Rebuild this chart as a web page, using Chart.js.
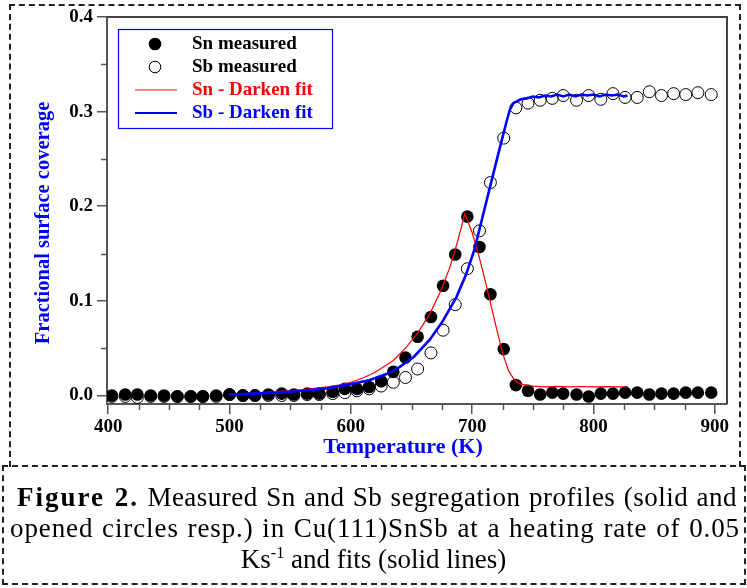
<!DOCTYPE html>
<html>
<head>
<meta charset="utf-8">
<script src="https://cdn.jsdelivr.net/npm/chart.js@4.4.1/dist/chart.umd.min.js"></script>
<style>
  body { margin: 0; background: #fff; width: 747px; height: 588px; position: relative; overflow: hidden;
         font-family: "Liberation Serif", "Times New Roman", serif; }
  #chart { position: absolute; left: 0; top: 0; }
  #plotBox { position: absolute; left: 9px; top: 4px; width: 732px; height: 463px; box-sizing: border-box;
             border: 2px dashed #222; border-bottom: none; }
  #capBox { position: absolute; left: 2px; top: 465px; width: 744px; height: 120px; box-sizing: border-box;
            border: 2px dashed #222; }
  .cap { position: absolute; font-size: 27px; line-height: 31px; color: #000; white-space: nowrap; }
  .cap.just { text-align: justify; text-align-last: justify; white-space: normal; }
  .cap.mid { text-align: center; }
  .cap b { letter-spacing: 2px; }
  .cap sup { font-size: 0.6em; vertical-align: baseline; position: relative; top: -0.6em; }
</style>
</head>
<body>
<canvas id="chart" width="747" height="466"></canvas>
<div id="plotBox"></div>
<div id="capBox"></div>
<div class="cap just" style="left:17px; top:482px; width:720px; letter-spacing:0.5px"><b>Figure 2.</b> Measured Sn and Sb segregation profiles (solid and</div>
<div class="cap just" style="left:10px; top:513px; width:730px; letter-spacing:0.9px">opened circles resp.) in Cu(111)SnSb at a heating rate of 0.05</div>
<div class="cap mid" style="left:0; top:544px; width:747px">Ks<sup>-1</sup> and fits (solid lines)</div>
<script>
// measured temperatures (K), shared by both species
const temps = [403, 414, 424, 435, 446, 457, 468, 478, 489, 500,
               511, 521, 532, 543, 553, 564, 574, 585, 595, 605,
               615, 625, 635, 645, 655, 666, 676, 686, 696, 706,
               715, 726, 736, 746, 756, 766, 775, 786, 796, 806,
               816, 826, 836, 846, 856, 866, 876, 886, 897];

const snMeasured = [0.000, 0.001, 0.001, 0.000, 0.000, -0.001, -0.001, -0.001, 0.000, 0.001,
                    0.000, 0.000, 0.001, 0.002, 0.001, 0.002, 0.002, 0.004, 0.007, 0.007,
                    0.009, 0.015, 0.025, 0.040, 0.062, 0.083, 0.116, 0.149, 0.189, 0.157,
                    0.107, 0.049, 0.011, 0.005, 0.001, 0.003, 0.002, 0.001, -0.001, 0.002,
                    0.002, 0.003, 0.003, 0.001, 0.002, 0.002, 0.003, 0.003, 0.003];

const sbMeasured = [-0.001, -0.001, -0.002, -0.001, -0.001, -0.001, -0.001, -0.001, -0.001, 0.001,
                    0.000, 0.000, 0.000, 0.000, 0.000, 0.001, 0.001, 0.002, 0.003, 0.005,
                    0.007, 0.010, 0.014, 0.019, 0.028, 0.045, 0.069, 0.096, 0.134, 0.174,
                    0.225, 0.272, 0.304, 0.309, 0.312, 0.314, 0.317, 0.312, 0.317, 0.313,
                    0.319, 0.315, 0.315, 0.321, 0.317, 0.319, 0.318, 0.320, 0.318];

// Darken fits
const snFitT = [500, 520, 540, 560, 580, 590, 600, 610, 620, 635, 645, 655, 665, 675, 682, 688, 694,
                700, 705, 710, 715, 720, 725, 730, 735, 740, 750, 760, 770, 780, 790, 800, 810, 820, 828];
const snFitV = [0.0015, 0.0025, 0.004, 0.006, 0.009, 0.011, 0.014, 0.0185, 0.0245, 0.037, 0.050, 0.066, 0.086, 0.113, 0.137, 0.163, 0.192,
                0.172, 0.150, 0.125, 0.098, 0.071, 0.045, 0.026, 0.016, 0.012, 0.0098, 0.0092, 0.0096, 0.0090, 0.0095, 0.0090, 0.0094, 0.0090, 0.0092];

const sbFitT = [500, 520, 540, 560, 580, 600, 615, 630, 640, 652, 665, 675, 687, 695, 702, 708, 715, 722, 728, 731, 734, 740,
                745, 750, 755, 760, 765, 770, 775, 780, 785, 790, 795, 800, 805, 810, 815, 820, 825, 828];
const sbFitV = [0.001, 0.002, 0.003, 0.005, 0.0075, 0.012, 0.016, 0.023, 0.030, 0.041, 0.059, 0.077, 0.104, 0.128, 0.155, 0.186, 0.222, 0.258, 0.288, 0.302, 0.309, 0.313,
                0.314, 0.316, 0.315, 0.317, 0.316, 0.318, 0.316, 0.318, 0.316, 0.318, 0.317, 0.318, 0.316, 0.318, 0.317, 0.318, 0.316, 0.317];

const xTicks = [400, 500, 600, 700, 800, 900];
const xMinor = [425, 450, 475, 525, 550, 575, 625, 650, 675, 725, 750, 775, 825, 850, 875];
const yTicks = [0, 0.1, 0.2, 0.3, 0.4];
const yMinor = [0.05, 0.15, 0.25, 0.35];

const legendItems = [
  { text: 'Sn measured',     color: '#000', kind: 'filled' },
  { text: 'Sb measured',     color: '#000', kind: 'open' },
  { text: 'Sn - Darken fit', color: '#ff0000', kind: 'line', width: 1 },
  { text: 'Sb - Darken fit', color: '#0000ff', kind: 'line', width: 2.2 }
];

const pts = (xs, ys) => xs.map((x, i) => ({ x: x, y: ys[i] }));
const boldFont = size => 'bold ' + size + 'px "Liberation Serif", "Times New Roman", serif';

// frame, minor ticks, axis titles and the boxed legend
const decor = {
  id: 'decor',
  afterDraw(chart) {
    const { ctx, chartArea: a, scales: { x, y } } = chart;
    ctx.save();
    ctx.strokeStyle = '#444';
    ctx.lineWidth = 2;
    ctx.beginPath();
    ctx.moveTo(a.left, a.top);
    ctx.lineTo(a.right, a.top);
    ctx.lineTo(a.right, a.bottom);
    ctx.stroke();

    ctx.strokeStyle = '#555';
    ctx.lineWidth = 1.5;
    ctx.beginPath();
    xMinor.forEach(v => {
      const px = Math.round(x.getPixelForValue(v)) + 0.5;
      ctx.moveTo(px, a.bottom);
      ctx.lineTo(px, a.bottom + 6);
    });
    yMinor.forEach(v => {
      const py = Math.round(y.getPixelForValue(v)) + 0.5;
      ctx.moveTo(a.left, py);
      ctx.lineTo(a.left - 6, py);
    });
    ctx.stroke();

    // axis titles
    ctx.fillStyle = '#0000ff';
    ctx.font = boldFont(22);
    ctx.textAlign = 'center';
    ctx.textBaseline = 'middle';
    ctx.fillText('Temperature (K)', 403, 447);
    ctx.save();
    ctx.translate(44, 223);
    ctx.rotate(-Math.PI / 2);
    ctx.font = boldFont(20.5);
    ctx.fillText('Fractional surface coverage', 0, 0);
    ctx.restore();

    // legend
    ctx.fillStyle = '#fff';
    ctx.fillRect(118, 29, 214, 99);
    ctx.strokeStyle = '#0000ff';
    ctx.lineWidth = 1.2;
    ctx.strokeRect(118.5, 29.5, 214, 99);
    ctx.font = boldFont(19);
    ctx.textAlign = 'left';
    legendItems.forEach((it, i) => {
      const cy = 44 + i * 23;
      if (it.kind === 'filled') {
        ctx.fillStyle = '#000';
        ctx.beginPath(); ctx.arc(155, cy, 6.3, 0, Math.PI * 2); ctx.fill();
      } else if (it.kind === 'open') {
        ctx.strokeStyle = '#000'; ctx.lineWidth = 1;
        ctx.beginPath(); ctx.arc(155, cy, 5.8, 0, Math.PI * 2); ctx.stroke();
      } else {
        ctx.strokeStyle = it.color; ctx.lineWidth = it.width;
        ctx.beginPath(); ctx.moveTo(135, cy); ctx.lineTo(177, cy); ctx.stroke();
      }
      ctx.fillStyle = it.color;
      ctx.fillText(it.text, 192, cy);
    });
    ctx.restore();
  }
};

const tickFont = { family: '"Liberation Serif", "Times New Roman", serif', weight: 'bold', size: 19 };

new Chart(document.getElementById('chart').getContext('2d'), {
  type: 'scatter',
  data: {
    datasets: [
      { label: 'Sb - Darken fit', data: pts(sbFitT, sbFitV), showLine: true, borderColor: '#0000ff',
        borderWidth: 2.6, pointRadius: 0, tension: 0, fill: false },
      { label: 'Sn - Darken fit', data: pts(snFitT, snFitV), showLine: true, borderColor: '#ff0000',
        borderWidth: 1.2, pointRadius: 0, tension: 0, fill: false },
      { label: 'Sn measured', data: pts(temps, snMeasured), pointRadius: 6.3, backgroundColor: '#000',
        borderColor: '#000', borderWidth: 0 },
      { label: 'Sb measured', data: pts(temps, sbMeasured), pointRadius: 6, backgroundColor: 'rgba(0,0,0,0)',
        borderColor: '#000', borderWidth: 1 }
    ]
  },
  options: {
    responsive: false,
    animation: false,
    layout: { padding: { left: 0, right: 20, top: 17, bottom: 0 } },
    plugins: { legend: { display: false }, tooltip: { enabled: false } },
    scales: {
      x: {
        type: 'linear', min: 399, max: 910,
        afterBuildTicks: s => { s.ticks = xTicks.map(v => ({ value: v })); },
        afterFit: s => { s.height = 62; },
        border: { color: '#555', width: 2 },
        grid: { drawOnChartArea: false, drawTicks: true, tickLength: 10, color: '#555', lineWidth: 1.5 },
        ticks: { color: '#000', font: tickFont, padding: 2, maxRotation: 0, callback: v => String(v) }
      },
      y: {
        type: 'linear', min: -0.009, max: 0.4,
        afterBuildTicks: s => { s.ticks = yTicks.map(v => ({ value: v })); },
        afterFit: s => { s.width = 107; },
        border: { color: '#555', width: 2 },
        grid: { drawOnChartArea: false, drawTicks: true, tickLength: 10, color: '#555', lineWidth: 1.5 },
        ticks: { color: '#000', font: tickFont, padding: 4, callback: v => v.toFixed(1) }
      }
    }
  },
  plugins: [decor]
});
</script>
</body>
</html>
